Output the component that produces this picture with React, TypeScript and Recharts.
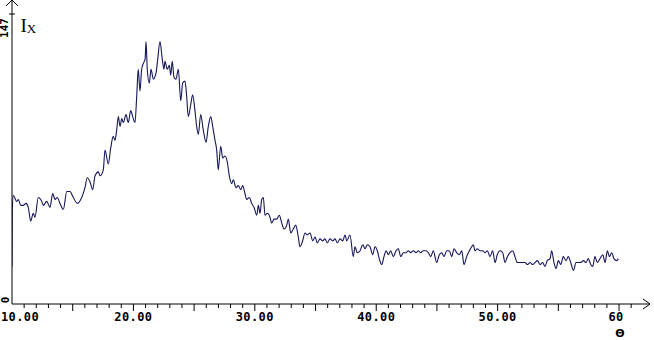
import React from 'react';
import { Line, LineChart, XAxis, YAxis } from 'recharts';

// diffraction angle (degrees) and intensity
const THETA = [
  10.0, 10.02, 10.11, 10.39, 10.52, 10.72, 10.93, 11.15, 11.34, 11.54, 11.75, 11.89, 12.17, 12.45, 12.58,
  12.86, 13.13, 13.35, 13.54, 13.73, 13.95, 14.23, 14.51, 14.78, 15.05, 15.38, 15.74, 16.01, 16.2, 16.42,
  16.65, 16.84, 17.11, 17.25, 17.52, 17.66, 17.93, 18.13, 18.34, 18.48, 18.62, 18.76, 18.9, 19.04, 19.17,
  19.39, 19.58, 19.78, 19.94, 20.13, 20.27, 20.4, 20.54, 20.68, 20.82, 20.96, 21.04, 21.14, 21.31, 21.45,
  21.64, 21.86, 22.0, 22.19, 22.38, 22.52, 22.6, 22.79, 22.96, 23.07, 23.2, 23.34, 23.51, 23.7, 23.9,
  24.06, 24.25, 24.39, 24.52, 24.72, 24.88, 25.07, 25.21, 25.35, 25.54, 25.76, 25.98, 26.17, 26.37, 26.53,
  26.72, 26.86, 26.99, 27.19, 27.36, 27.54, 27.73, 27.9, 28.1, 28.23, 28.45, 28.64, 28.84, 29.0, 29.19,
  29.33, 29.55, 29.74, 29.93, 30.16, 30.29, 30.43, 30.57, 30.7, 30.84, 31.03, 31.25, 31.39, 31.58, 31.8,
  32.02, 32.22, 32.41, 32.63, 32.76, 32.96, 33.17, 33.37, 33.58, 33.72, 33.94, 34.13, 34.32, 34.55, 34.77,
  34.96, 35.15, 35.37, 35.59, 35.78, 35.97, 36.19, 36.42, 36.61, 36.8, 37.02, 37.24, 37.43, 37.57, 37.84,
  38.11, 38.25, 38.44, 38.67, 38.89, 39.08, 39.27, 39.49, 39.71, 39.9, 40.09, 40.25, 40.45, 40.64, 40.81,
  41.0, 41.19, 41.41, 41.63, 41.82, 42.02, 42.23, 42.45, 42.64, 42.84, 43.06, 43.28, 43.47, 43.66, 43.88,
  44.1, 44.29, 44.49, 44.7, 44.98, 45.2, 45.4, 45.58, 45.81, 46.02, 46.22, 46.41, 46.63, 46.84, 47.04,
  47.23, 47.45, 47.67, 47.86, 48.0, 48.14, 48.33, 48.55, 48.77, 48.96, 49.15, 49.37, 49.59, 49.79, 49.97,
  50.2, 50.42, 50.61, 50.8, 51.02, 51.24, 51.43, 51.62, 51.84, 52.07, 52.26, 52.45, 52.67, 52.89, 53.08,
  53.27, 53.49, 53.71, 53.9, 54.09, 54.32, 54.45, 54.64, 54.81, 55.0, 55.2, 55.41, 55.63, 55.82, 56.02,
  56.24, 56.46, 56.65, 56.84, 57.06, 57.28, 57.47, 57.67, 57.83, 58.02, 58.21, 58.43, 58.66, 58.85, 59.04,
  59.2, 59.4, 59.58, 59.81, 59.94,
];

const INTENSITY = [
  19, 47, 55, 52, 53, 50, 50, 51, 49, 42, 46, 44, 54, 52, 50,
  52, 49, 56, 53, 54, 51, 48, 57, 57, 54, 51, 54, 59, 64, 62,
  58, 65, 67, 65, 68, 78, 71, 79, 85, 83, 88, 95, 90, 94, 92,
  96, 92, 98, 95, 92, 105, 119, 108, 119, 122, 124, 133, 119, 112, 119,
  114, 117, 124, 133, 124, 119, 123, 119, 121, 116, 123, 115, 114, 119, 103,
  112, 113, 105, 95, 101, 106, 98, 90, 86, 96, 88, 82, 90, 95, 90,
  83, 78, 68, 80, 74, 75, 72, 65, 61, 63, 59, 60, 58, 60, 56,
  53, 54, 51, 49, 45, 50, 46, 53, 54, 45, 46, 44, 41, 43, 43,
  45, 41, 38, 40, 43, 36, 38, 40, 34, 29, 32, 36, 35, 36, 32,
  34, 31, 33, 32, 33, 31, 33, 32, 33, 31, 33, 32, 35, 32, 35,
  24, 29, 26, 27, 30, 28, 30, 29, 25, 29, 27, 23, 20, 24, 27,
  25, 27, 24, 27, 28, 24, 26, 26, 27, 26, 27, 26, 27, 26, 27,
  27, 26, 24, 27, 21, 25, 26, 24, 27, 27, 24, 28, 26, 25, 27,
  20, 24, 27, 29, 30, 27, 28, 27, 27, 26, 27, 24, 27, 21, 25,
  27, 26, 21, 24, 26, 27, 24, 21, 21, 21, 21, 20, 21, 20, 21,
  22, 20, 21, 19, 22, 23, 27, 21, 18, 22, 20, 24, 22, 24, 21,
  17, 21, 21, 21, 22, 21, 23, 20, 19, 24, 21, 23, 25, 21, 27,
  24, 26, 23, 22, 23,
];

const X_TICKS = Array.from({ length: 52 }, (_, i) => 10 + i);
const Y_TICKS = [0, 147];

const data = THETA.map((t, i) => ({ t, v: INTENSITY[i] }));

const LABEL_FONT = '"DejaVu Sans Mono", monospace';

function XTick(props: any) {
  const { x, y, payload } = props;
  const v = payload.value as number;
  const len = v % 5 === 0 ? 7 : 4;
  let label: string | null = null;
  if (v % 10 === 0) label = v === 60 ? '60' : `${v}.00`;
  return (
    <g>
      {v !== 10 && <line x1={x} y1={y} x2={x} y2={y + len} stroke="#000" />}
      {label && (
        <text
          x={v === 10 ? x - 11 : v === 60 ? x - 3 : x}
          y={y + 17}
          textAnchor={v === 10 ? 'start' : 'middle'}
          fontFamily={LABEL_FONT}
          fontWeight="bold"
          fontSize={12}
          letterSpacing={0.4}
          fill="#000"
        >
          {label}
        </text>
      )}
    </g>
  );
}

function YTick(props: any) {
  const { x, y, payload } = props;
  const v = payload.value as number;
  const cx = x - 7;
  const cy = v === 0 ? y - 4 : y + 14;
  return (
    <g>
      {v !== 0 && <line x1={x - 3} y1={y} x2={x + 3} y2={y} stroke="#000" />}
      <text
        x={cx}
        y={cy}
        transform={`rotate(-90, ${cx}, ${cy})`}
        textAnchor="middle"
        dominantBaseline="central"
        fontFamily={LABEL_FONT}
        fontWeight="bold"
        fontSize={11}
        fill="#000"
      >
        {v}
      </text>
    </g>
  );
}

export default function App() {
  return (
    <div style={{ position: 'absolute', left: 0, top: 0, width: 654, height: 340, background: '#fff' }}>
      <LineChart width={654} height={340} data={data} margin={{ top: 0, right: 4, bottom: 0, left: 0 }}>
        <XAxis
          dataKey="t"
          type="number"
          domain={[10, 62.55]}
          ticks={X_TICKS}
          interval={0}
          height={36}
          tickSize={0}
          tickMargin={0}
          tickLine={false}
          axisLine={{ stroke: '#000' }}
          tick={<XTick />}
          allowDataOverflow
        />
        <YAxis
          type="number"
          domain={[0, 154.1]}
          ticks={Y_TICKS}
          interval={0}
          width={12}
          tickSize={0}
          tickMargin={0}
          tickLine={false}
          axisLine={{ stroke: '#000' }}
          tick={<YTick />}
          allowDataOverflow
        />
        <Line
          dataKey="v"
          type="monotone"
          stroke="#16165c"
          strokeWidth={1.1}
          dot={false}
          isAnimationActive={false}
        />
      </LineChart>
      <svg
        width={654}
        height={340}
        style={{ position: 'absolute', left: 0, top: 0, pointerEvents: 'none' }}
      >
        <polyline points="6,6 12,0 18,6" fill="none" stroke="#000" />
        <polyline points="643,299 650,304 643,309" fill="none" stroke="#000" />
        <text x={20.5} y={32} fontFamily='"Liberation Serif", serif' fontSize={19} fill="#000">
          I<tspan fontSize={13} dy={1}>X</tspan>
        </text>
        <text
          x={620}
          y={337}
          textAnchor="middle"
          fontFamily='"DejaVu Sans", sans-serif'
          fontWeight="bold"
          fontSize={11}
          fill="#000"
        >
          Θ
        </text>
      </svg>
    </div>
  );
}
